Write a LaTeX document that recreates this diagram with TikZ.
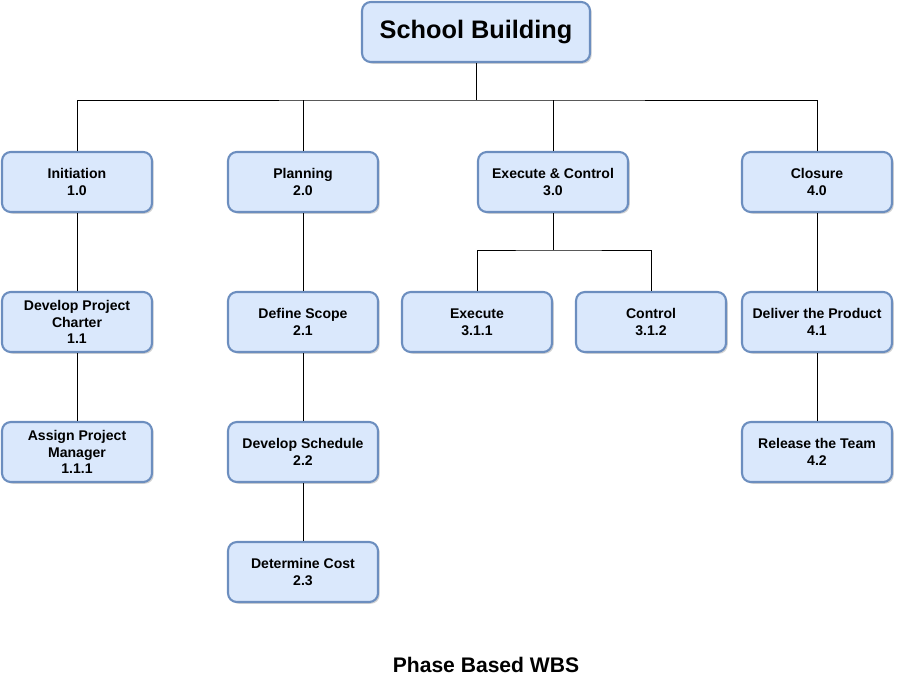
\documentclass[tikz,border=0pt]{standalone}
\usepackage{fontspec}
\setmainfont{Liberation Sans}
\usetikzlibrary{shadows}
\definecolor{boxfill}{HTML}{DAE8FC}
\definecolor{boxline}{HTML}{6C8EBF}
\tikzset{
  task/.style={draw=boxline, line width=1.2pt, fill=boxfill, rounded corners=5pt,
    minimum width=3cm, minimum height=1.2cm, align=center, font=\footnotesize\bfseries,
    drop shadow={shadow xshift=1pt, shadow yshift=-1pt, opacity=0.35}},
  link/.style={draw=black, line width=0.5pt}
}
\begin{document}
\begin{tikzpicture}[x=0.02cm, y=-0.02cm]
        \useasboundingbox (0,0) rectangle (905,693);

        \node[task, minimum width=4.56cm, font=\Large\bfseries] (root) at (476,32) {School Building};

        \node[task] (ini) at (77,182) {Initiation\\1.0};
        \node[task] (pla) at (303,182) {Planning\\2.0};
        \node[task] (exc) at (553,182) {Execute \& Control\\3.0};
        \node[task] (clo) at (817,182) {Closure\\4.0};

        \node[task] (dpc) at (77,322) {Develop Project\\Charter\\1.1};
        \node[task] (dsc) at (303,322) {Define Scope\\2.1};
        \node[task] (exe) at (477,322) {Execute\\3.1.1};
        \node[task] (con) at (651,322) {Control\\3.1.2};
        \node[task] (dlv) at (817,322) {Deliver the Product\\4.1};

        \node[task] (apm) at (77,452) {Assign Project\\Manager\\1.1.1};
        \node[task] (dsh) at (303,452) {Develop Schedule\\2.2};
        \node[task] (rel) at (817,452) {Release the Team\\4.2};

        \node[task] (dco) at (303,572) {Determine Cost\\2.3};

        \coordinate (bus) at (476,100);
        \draw[link] (root.south) -- (bus);
        \draw[link] (ini.north) |- (bus) -| (clo.north);
        \draw[link] (pla.north) -- (pla.north |- bus);
        \draw[link] (exc.north) -- (exc.north |- bus);

        \coordinate (sub) at (553,250);
        \draw[link] (exc.south) -- (sub);
        \draw[link] (exe.north) |- (sub) -| (con.north);

        \draw[link] (ini) -- (dpc) -- (apm);
        \draw[link] (pla) -- (dsc) -- (dsh) -- (dco);
        \draw[link] (clo) -- (dlv) -- (rel);

        \node[font=\large\bfseries] (title) at (486,665) {Phase Based WBS};
\end{tikzpicture}
\end{document}
